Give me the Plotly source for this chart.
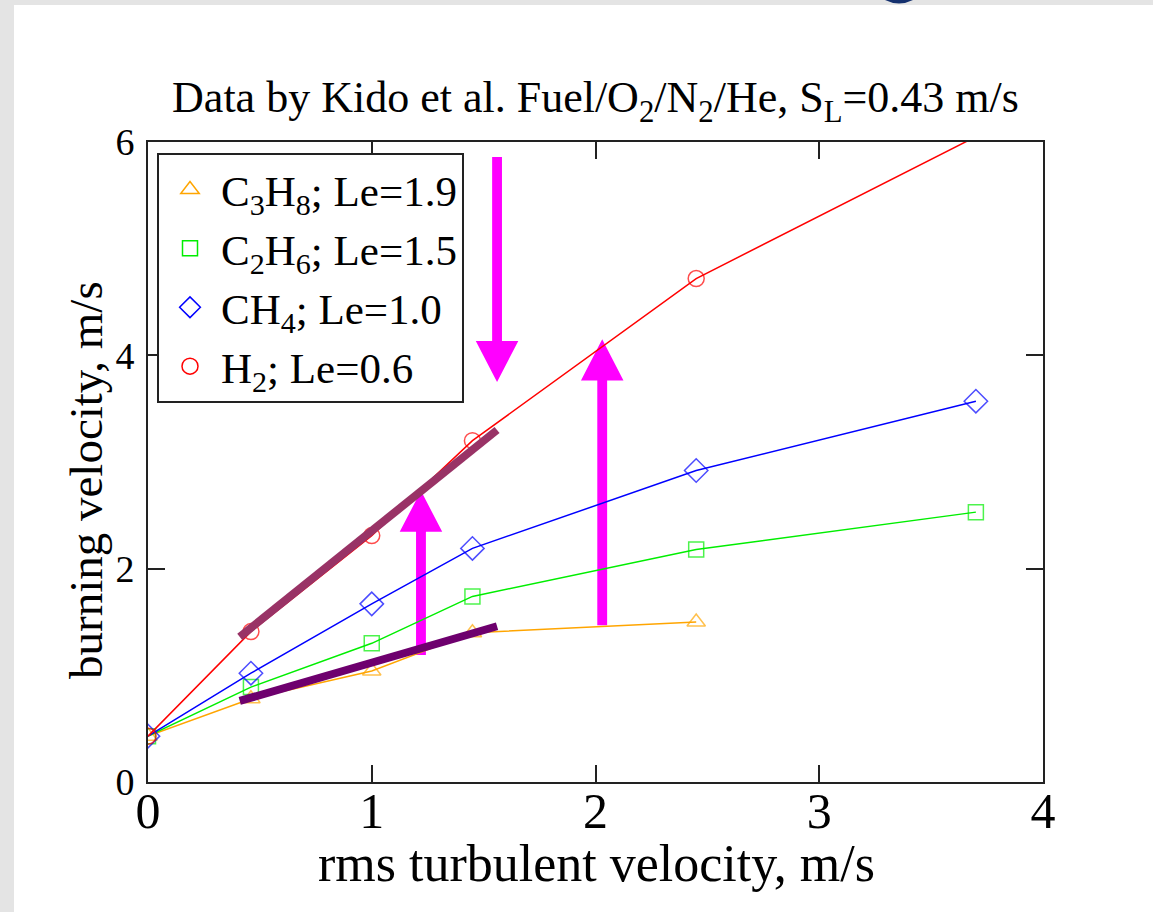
import plotly.graph_objects as go

# ---------------- data ----------------
u_C3H8 = [0.0, 0.46, 1.0, 1.45, 2.45]
S_C3H8 = [0.43, 0.78, 1.04, 1.40, 1.50]

u_C2H6 = [0.0, 0.46, 1.0, 1.45, 2.45, 3.70]
S_C2H6 = [0.43, 0.89, 1.30, 1.74, 2.18, 2.53]

u_CH4 = [0.0, 0.46, 1.0, 1.45, 2.45, 3.70]
S_CH4 = [0.43, 1.02, 1.67, 2.19, 2.92, 3.57]

u_H2 = [0.0, 0.46, 1.0, 1.45, 2.45, 3.70]
S_H2 = [0.43, 1.41, 2.31, 3.20, 4.72, 6.05]

legend_names = ["C<sub>3</sub>H<sub>8</sub>; Le=1.9",
                "C<sub>2</sub>H<sub>6</sub>; Le=1.5",
                "CH<sub>4</sub>; Le=1.0",
                "H<sub>2</sub>; Le=0.6"]

# thick guide lines
guide_upper_x = [0.41, 1.56]
guide_upper_y = [1.36, 3.30]
guide_lower_x = [0.41, 1.56]
guide_lower_y = [0.76, 1.46]

# magenta arrows: x, tail y, tip y
arrow_x = [1.56, 1.22, 2.03]
arrow_tail = [5.86, 1.19, 1.47]
arrow_tip = [3.75, 2.73, 4.15]

x_ticks = [0, 1, 2, 3, 4]
y_ticks = [0, 2, 4, 6]

title_text = ("Data by Kido et al. Fuel/O<sub>2</sub>/N<sub>2</sub>/He, "
              "S<sub>L</sub>=0.43 m/s")
x_title = "rms turbulent velocity, m/s"
y_title = "burning velocity, m/s"

# ---------------- layout geometry ----------------
W, H = 1153, 912
ML, MR, MT, MB = 148, 110, 142, 130
PW, PH = W - ML - MR, H - MT - MB
FONT = "Liberation Serif, Times New Roman, serif"
Y_MAX = 6


def fx(p):
    return (p - ML) / PW


def fy(p):
    return 1 - (p - MT) / PH


series = [
    (u_C3H8, S_C3H8, "#FFA500", "triangle-up-open", 16),
    (u_C2H6, S_C2H6, "#00EE00", "square-open", 15),
    (u_CH4, S_CH4, "#0000FF", "diamond-open", 18),
    (u_H2, S_H2, "#FF0000", "circle-open", 16),
]

fig = go.Figure()

for (x, y, c, sym, sz), name in zip(series, legend_names):
    # markers outside the axis range are fully clipped, as in the original
    sizes = [sz if v <= Y_MAX else 0 for v in y]
    fig.add_trace(go.Scatter(
        x=x, y=y, mode="lines+markers", showlegend=False,
        line=dict(color=c, width=1.5),
        marker=dict(symbol=sym, size=sizes, color=c, line=dict(color=c, width=1.5)),
        cliponaxis=True,
    ))

# legend-only entries (marker only)
for (x, y, c, sym, sz), name in zip(series, legend_names):
    fig.add_trace(go.Scatter(
        x=[None], y=[None], mode="markers", name=name,
        marker=dict(symbol=sym, size=sz, color=c, line=dict(color=c, width=1.5)),
    ))

fig.add_trace(go.Scatter(x=guide_upper_x, y=guide_upper_y, mode="lines",
                         line=dict(color="#993366", width=8), showlegend=False))
fig.add_trace(go.Scatter(x=guide_lower_x, y=guide_lower_y, mode="lines",
                         line=dict(color="#6E006E", width=8), showlegend=False))

# arrows as filled paths in data coordinates
SHAFT_HW, HEAD_HW, HEAD_LEN = 0.022, 0.095, 0.385
shapes = []
for x, yt, yp in zip(arrow_x, arrow_tail, arrow_tip):
    d = 1 if yp > yt else -1
    yb = yp - d * HEAD_LEN
    path = (f"M {x - SHAFT_HW},{yt} L {x + SHAFT_HW},{yt} L {x + SHAFT_HW},{yb} "
            f"L {x + HEAD_HW},{yb} L {x},{yp} L {x - HEAD_HW},{yb} "
            f"L {x - SHAFT_HW},{yb} Z")
    shapes.append(dict(type="path", xref="x", yref="y", path=path,
                       fillcolor="#FF00FF", line=dict(width=0), layer="below"))

# grey page strips (left and top) and blue fragment at top
GREY = "#E4E4E4"
shapes.append(dict(type="rect", xref="paper", yref="paper",
                   x0=fx(0), x1=fx(14), y0=fy(H), y1=fy(0),
                   fillcolor=GREY, line=dict(width=0), layer="above"))
shapes.append(dict(type="rect", xref="paper", yref="paper",
                   x0=fx(0), x1=fx(W), y0=fy(5), y1=fy(0),
                   fillcolor=GREY, line=dict(width=0), layer="above"))
shapes.append(dict(type="path", xref="paper", yref="paper",
                   path=(f"M {fx(885)},{fy(0)} Q {fx(899)},{fy(7)} {fx(913)},{fy(0)} Z"),
                   fillcolor="#14306E", line=dict(width=0), layer="above"))

axis_common = dict(showgrid=False, zeroline=False, showline=True,
                   linecolor="#222222", linewidth=2, mirror="ticks",
                   ticks="inside", ticklen=17, tickwidth=2, tickcolor="#222222")

annotations = [
    dict(text=x_title, xref="paper", yref="paper", x=fx(596), y=fy(863),
         xanchor="center", yanchor="middle", showarrow=False,
         font=dict(family=FONT, size=52, color="black")),
    dict(text=y_title, xref="paper", yref="paper", x=fx(86), y=fy(480),
         xanchor="center", yanchor="middle", showarrow=False, textangle=-90,
         font=dict(family=FONT, size=47, color="black")),
]

fig.update_layout(
    width=W, height=H,
    margin=dict(l=ML, r=MR, t=MT, b=MB),
    paper_bgcolor="white", plot_bgcolor="white",
    font=dict(family=FONT, color="black"),
    title=dict(text=title_text, x=0.5, xref="paper", xanchor="center",
               y=1 - 97 / H, yref="container", yanchor="middle",
               font=dict(family=FONT, size=44, color="black")),
    xaxis=dict(range=[0, 4], tickvals=x_ticks,
               tickfont=dict(family=FONT, size=50, color="black"),
               ticklabelstandoff=-16,
               **axis_common),
    yaxis=dict(range=[0, Y_MAX], tickvals=y_ticks,
               tickfont=dict(family=FONT, size=38, color="black"),
               ticklabelstandoff=4,
               **axis_common),
    legend=dict(x=fx(157), y=fy(153), xanchor="left", yanchor="top",
                bgcolor="white", bordercolor="#222222", borderwidth=2,
                font=dict(family=FONT, size=43, color="black"),
                itemwidth=52, tracegroupgap=0),
    annotations=annotations,
    shapes=shapes,
    showlegend=True,
)

fig.write_html("out.html")
